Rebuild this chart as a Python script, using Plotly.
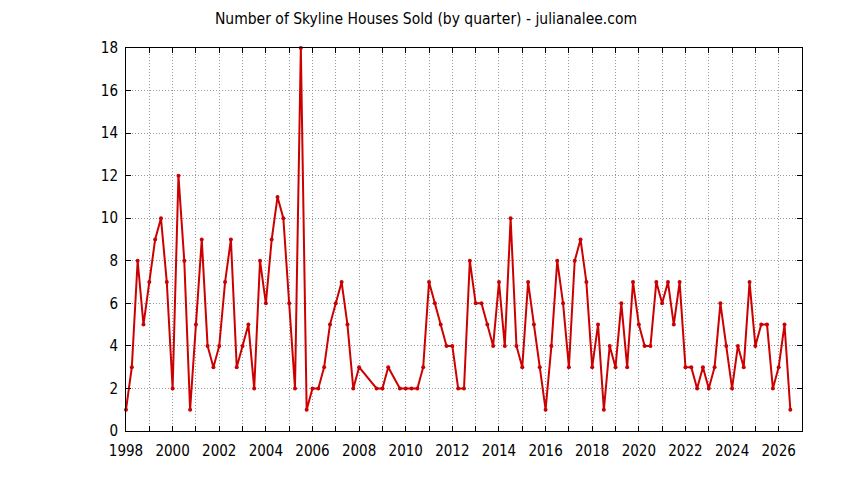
import plotly.graph_objects as go

# Quarter positions (year + fraction) and sales counts
quarters = [
    1998.0, 1998.25, 1998.5, 1998.75,
    1999.0, 1999.25, 1999.5, 1999.75,
    2000.0, 2000.25, 2000.5, 2000.75,
    2001.0, 2001.25, 2001.5, 2001.75,
    2002.0, 2002.25, 2002.5, 2002.75,
    2003.0, 2003.25, 2003.5, 2003.75,
    2004.0, 2004.25, 2004.5, 2004.75,
    2005.0, 2005.25, 2005.5, 2005.75,
    2006.0, 2006.25, 2006.5, 2006.75,
    2007.0, 2007.25, 2007.5, 2007.75,
    2008.0, 2008.75,
    2009.0, 2009.25, 2009.75,
    2010.0, 2010.25, 2010.5, 2010.75,
    2011.0, 2011.25, 2011.5, 2011.75,
    2012.0, 2012.25, 2012.5, 2012.75,
    2013.0, 2013.25, 2013.5, 2013.75,
    2014.0, 2014.25, 2014.5, 2014.75,
    2015.0, 2015.25, 2015.5, 2015.75,
    2016.0, 2016.25, 2016.5, 2016.75,
    2017.0, 2017.25, 2017.5, 2017.75,
    2018.0, 2018.25, 2018.5, 2018.75,
    2019.0, 2019.25, 2019.5, 2019.75,
    2020.0, 2020.25, 2020.5, 2020.75,
    2021.0, 2021.25, 2021.5, 2021.75,
    2022.0, 2022.25, 2022.5, 2022.75,
    2023.0, 2023.25, 2023.5, 2023.75,
    2024.0, 2024.25, 2024.5, 2024.75,
    2025.0, 2025.25, 2025.5, 2025.75,
    2026.0, 2026.25, 2026.5,
]
houses_sold = [
    1, 3, 8, 5,
    7, 9, 10, 7,
    2, 12, 8, 1,
    5, 9, 4, 3,
    4, 7, 9, 3,
    4, 5, 2, 8,
    6, 9, 11, 10,
    6, 2, 18, 1,
    2, 2, 3, 5,
    6, 7, 5, 2,
    3, 2,
    2, 3, 2,
    2, 2, 2, 3,
    7, 6, 5, 4,
    4, 2, 2, 8,
    6, 6, 5, 4,
    7, 4, 10, 4,
    3, 7, 5, 3,
    1, 4, 8, 6,
    3, 8, 9, 7,
    3, 5, 1, 4,
    3, 6, 3, 7,
    5, 4, 4, 7,
    6, 7, 5, 7,
    3, 3, 2, 3,
    2, 3, 6, 4,
    2, 4, 3, 7,
    4, 5, 5, 2,
    3, 5, 1,
]

x_tick_vals = list(range(1998, 2028))
x_tick_text = [str(v) if v % 2 == 0 else "" for v in x_tick_vals]
y_tick_vals = list(range(0, 19, 2))

title_text = "Number of Skyline Houses Sold (by quarter) - julianalee.com"

FONT = "DejaVu Sans Condensed, Liberation Sans Narrow, DejaVu Sans, sans-serif"

fig = go.Figure()
fig.add_trace(go.Scatter(
    x=quarters, y=houses_sold, mode="lines+markers",
    line=dict(color="#cc0000", width=2),
    marker=dict(color="#cc0000", size=4),
    showlegend=False,
    cliponaxis=False,
))

axis_common = dict(
    showline=True, linecolor="black", linewidth=1, mirror="ticks",
    ticks="inside", ticklen=5, tickcolor="black", tickwidth=1,
    showgrid=True, gridcolor="#999999", griddash="1px,2px", gridwidth=1,
    zeroline=False, automargin=False,
    tickfont=dict(family=FONT, size=15, color="black"),
)

fig.update_layout(
    width=836, height=472,
    paper_bgcolor="white", plot_bgcolor="white",
    margin=dict(l=118, r=42, t=40, b=49),
    title=dict(text=title_text, x=0.5, xanchor="center", y=0.977, yanchor="middle",
               font=dict(family=FONT, size=15.5, color="black")),
    xaxis=dict(range=[1998, 2027], tickvals=x_tick_vals, ticktext=x_tick_text,
               ticklabelstandoff=6, **axis_common),
    yaxis=dict(range=[0, 18], tickvals=y_tick_vals, ticklabelstandoff=4, **axis_common),
)

fig.write_html("out.html")
